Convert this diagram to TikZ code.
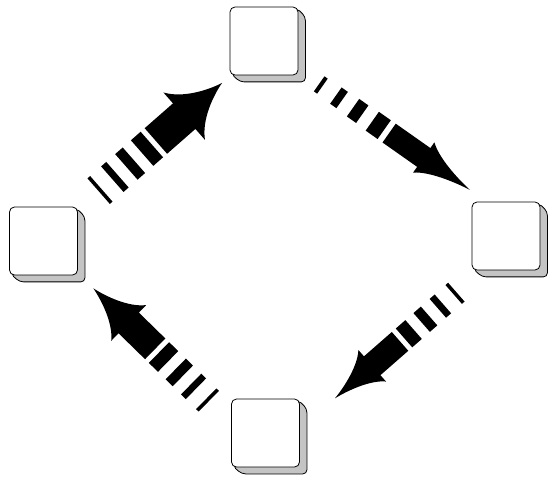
\documentclass[tikz,border=0pt]{standalone}
\usetikzlibrary{calc,backgrounds}
\definecolor{shadegray}{RGB}{196,196,196}
\tikzset{
  box/.style={draw,fill=white,rounded corners=5pt,minimum size=68pt,inner sep=0pt,line width=0.8pt},
  boxshadow/.style={draw,fill=shadegray,rounded corners=4pt,line width=0.8pt},
  arrowfill/.style={fill=black}
}
% tail, tip, shaft half width, head half width, stripe taper
\newcommand{\stripedarrow}[5]{%
  \pgfpointdiff{\pgfpointanchor{#1}{center}}{\pgfpointanchor{#2}{center}}%
  \pgfgetlastxy{\arrdx}{\arrdy}%
  \pgfmathsetmacro{\arrlen}{veclen(\arrdx,\arrdy)}%
  \pgfmathsetmacro{\arrang}{atan2(\arrdy,\arrdx)}%
  \pgfmathsetmacro{\arrbase}{0.69*\arrlen}%
  \pgfmathsetmacro{\arrca}{0.758*\arrlen}%
  \pgfmathsetmacro{\arrcb}{0.907*\arrlen}%
  \begin{scope}[shift={(#1)},rotate=\arrang]
    \foreach \pos/\thk/\idx in {0/0.022/0,0.122/0.042/1,0.247/0.062/2,0.385/0.08/3}
      \fill[arrowfill] ({(\pos-\thk/2)*\arrlen},{-#3*(#5+(1-#5)*\idx/3)})
        rectangle ({(\pos+\thk/2)*\arrlen},{#3*(#5+(1-#5)*\idx/3)});
    \fill[arrowfill] ({0.458*\arrlen},-#3) -- (\arrbase,-#3) -- (\arrbase,-#4)
      .. controls (\arrca,{-0.45*#4}) and (\arrcb,{-0.12*#4}) .. (\arrlen,0)
      .. controls (\arrcb,{0.12*#4}) and (\arrca,{0.45*#4}) .. (\arrbase,#4)
      -- (\arrbase,#3) -- ({0.458*\arrlen},#3) -- cycle;
  \end{scope}}
\begin{document}
\begin{tikzpicture}[x=1pt,y=1pt]
  \useasboundingbox (0,0) rectangle (556,482);
  \node[box] (top) at (264,441) {};
  \node[box] (left) at (43.5,241) {};
  \node[box] (right) at (506,246) {};
  \node[box] (bottom) at (265.5,49) {};
  \begin{scope}[on background layer]
    \foreach \b in {top,left,right,bottom}
      \draw[boxshadow] ($(\b.north east)+(-1.5,-1.5)$) -- ($(\b.north east)+(7,-10)$)
        -- ($(\b.south east)+(7,-6.5)$) -- ($(\b.south west)+(10.5,-6.5)$)
        -- ($(\b.south west)+(1.5,1.5)$) -- cycle;
  \end{scope}
  \coordinate (t1) at (100,292);   \coordinate (h1) at (222,399);
  \coordinate (t2) at (320.8,397); \coordinate (h2) at (470,292);
  \coordinate (t3) at (455,188.7); \coordinate (h3) at (335,83.7);
  \coordinate (t4) at (207.5,82);  \coordinate (h4) at (93.3,193.7);
  \stripedarrow{t1}{h1}{17}{31.5}{1}
  \stripedarrow{t2}{h2}{11.5}{18.5}{0.8}
  \stripedarrow{t3}{h3}{12.5}{21}{1}
  \stripedarrow{t4}{h4}{14.5}{25}{1}
\end{tikzpicture}
\end{document}
